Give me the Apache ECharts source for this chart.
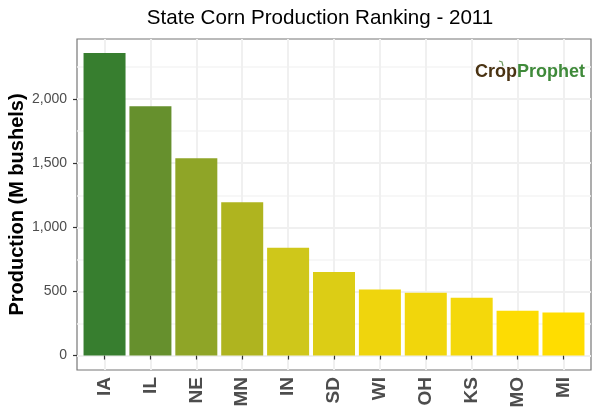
<!DOCTYPE html>
<html>
<head>
<meta charset="utf-8">
<style>
html, body { margin: 0; padding: 0; background: #fff; }
#chart { width: 600px; height: 420px; }
</style>
<script src="https://cdn.jsdelivr.net/npm/echarts@6/dist/echarts.min.js"></script>
</head>
<body>
<div id="chart"></div>
<script>
var states = ['IA', 'IL', 'NE', 'MN', 'IN', 'SD', 'WI', 'OH', 'KS', 'MO', 'MI'];
var production = [2359, 1945, 1539, 1195, 840, 652, 515, 490, 450, 350, 335];
var barColors = ['#377e2f', '#66902d', '#8fa527', '#afb41f', '#cfc71a', '#dccd15',
                 '#efd50d', '#f1d60c', '#f4d80b', '#fddc03', '#ffdd00'];
var yTicks = [0, 500, 1000, 1500, 2000];
var yMinorTicks = [250, 750, 1250, 1750, 2250];
var xTicks = states.map(function (s, i) { return i + 1; });

var font = '"Liberation Sans", Arial, sans-serif';

var chart = echarts.init(document.getElementById('chart'), null, { renderer: 'canvas' });

var option = {
    animation: false,
    backgroundColor: '#fff',
    title: {
        text: 'State Corn Production Ranking - 2011',
        left: 315,
        top: 3,
        textAlign: 'center',
        textStyle: { fontFamily: font, fontSize: 20.6, fontWeight: 'normal', color: '#000' }
    },
    grid: {
        left: 77, right: 9, top: 39, bottom: 50,
        outerBoundsMode: 'none',
        show: true,
        borderColor: '#777',
        borderWidth: 1.2,
        backgroundColor: 'transparent'
    },
    xAxis: {
        type: 'value',
        min: 0.4,
        max: 11.6,
        axisLine: { show: false },
        axisTick: { show: true, customValues: xTicks, length: 4, lineStyle: { color: '#333', width: 1.2 } },
        splitLine: { show: true, lineStyle: { color: '#f0f0f0', width: 2 } },
        axisLabel: {
            customValues: xTicks,
            rotate: 90,
            margin: 7,
            fontFamily: font,
            fontSize: 19,
            fontWeight: 'bold',
            color: '#4d4d4d',
            formatter: function (v) { return states[v - 1]; }
        }
    },
    yAxis: [{
        type: 'value',
        min: -113,
        max: 2469,
        name: 'Production (M bushels)',
        nameLocation: 'middle',
        nameGap: 50,
        nameMoveOverlap: false,
        nameTextStyle: { fontFamily: font, fontSize: 20, fontWeight: 'bold', color: '#000' },
        axisLine: { show: false },
        axisTick: { show: true, customValues: yTicks, length: 4, lineStyle: { color: '#333', width: 1.2 } },
        splitLine: { show: true, lineStyle: { color: '#f0f0f0', width: 2 } },
        axisLabel: {
            customValues: yTicks,
            margin: 10,
            fontFamily: font,
            fontSize: 14,
            color: '#4d4d4d',
            formatter: function (v) { return v.toLocaleString('en-US'); }
        }
    }, {
        type: 'value',
        position: 'left',
        min: -113,
        max: 2469,
        axisLine: { show: false },
        axisLabel: { show: false, customValues: yMinorTicks },
        axisTick: { show: false, customValues: yMinorTicks },
        splitLine: { show: true, lineStyle: { color: '#f5f5f5', width: 1.5 } }
    }],
    series: [{
        type: 'bar',
        barWidth: 42,
        data: production.map(function (v, i) {
            return { value: [i + 1, v], itemStyle: { color: barColors[i] } };
        })
    }],
    graphic: [
        {
            type: 'text', left: 475, top: 63, z: 10,
            style: { text: 'Crop', fontFamily: font, fontSize: 18, fontWeight: 'bold', fill: '#4a3313' }
        },
        {
            type: 'text', left: 517, top: 63, z: 10,
            style: { text: 'Prophet', fontFamily: font, fontSize: 18, fontWeight: 'bold', fill: '#3f8a3a' }
        },
        {
            type: 'polyline', z: 10,
            shape: { points: [[503, 66], [502, 62], [499, 61]] },
            style: { stroke: '#6f9a60', lineWidth: 1.2, fill: 'none' }
        }
    ]
};

chart.setOption(option);
</script>
</body>
</html>
